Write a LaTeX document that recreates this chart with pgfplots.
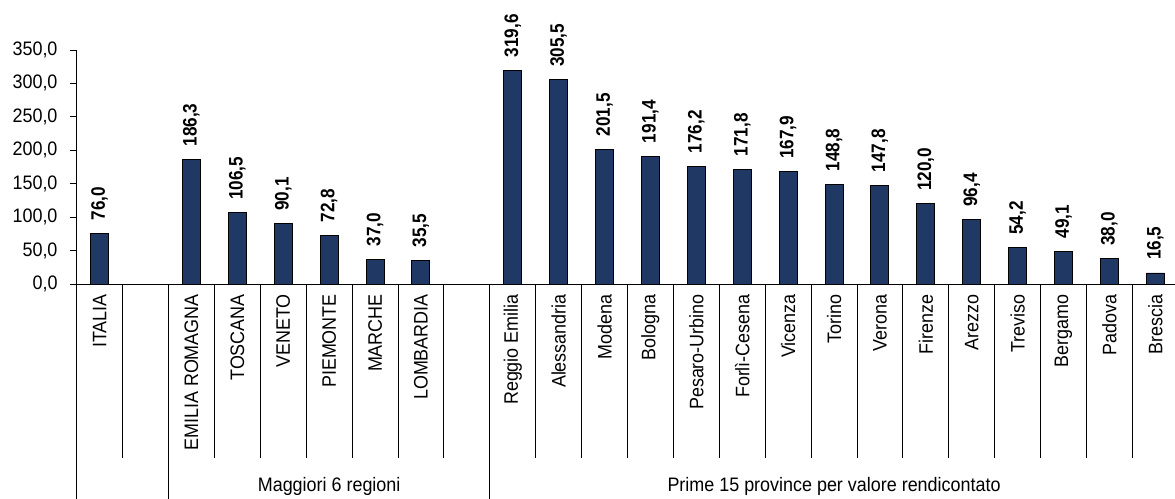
\documentclass[border=0pt]{standalone}
\usepackage{fontspec}
\setmainfont{Liberation Sans}
\newfontfamily\narrowf{Liberation Sans}[FakeStretch=0.92]
\newfontfamily\narrowb{Liberation Sans}[FakeStretch=0.88]
\usepackage{pgfplots}
\pgfplotsset{compat=1.18}
\definecolor{barblue}{RGB}{31,56,100}
\newcommand{\fs}{\narrowf\fontsize{19.5bp}{22bp}\selectfont}
\newcommand{\fb}{\narrowb\fontsize{19.5bp}{22bp}\selectfont\bfseries}
\begin{document}
\begin{tikzpicture}
\pgfkeys{/pgf/number format/assume math mode=true}
\begin{axis}[
  at={(0,0)}, anchor=south west,
  scale only axis, width=1101.6bp, height=234bp,
  xmin=-0.5, xmax=23.5, ymin=0, ymax=350,
  axis x line*=bottom, axis y line*=left,
  axis line style={black, line width=0.9bp},
  clip=false,
  ytick={0,50,...,350},
  xtick={0,...,23},
  xticklabels={ITALIA,{},EMILIA ROMAGNA,TOSCANA,VENETO,PIEMONTE,MARCHE,LOMBARDIA,{},Reggio Emilia,Alessandria,Modena,Bologna,Pesaro-Urbino,Forlì-Cesena,Vicenza,Torino,Verona,Firenze,Arezzo,Treviso,Bergamo,Padova,Brescia},
  xtick style={draw=none},
  ytick style={black, line width=0.9bp},
  tick align=outside, major tick length=6.7bp,
  x tick label style={font=\fs, rotate=90, anchor=east},
  y tick label style={font=\fs, xshift=-9bp, /pgf/number format/.cd, fixed, fixed zerofill, precision=1, use comma, 1000 sep={}},
]
\addplot[ybar, bar width=18bp, fill=barblue, draw=black, line width=0.9bp,
  nodes near coords={\pgfmathprintnumber[fixed,fixed zerofill,precision=1,use comma]{\pgfplotspointmeta}},
  nodes near coords align=horizontal,
  every node near coord/.append style={font=\fb, text=black, rotate=90, anchor=west, inner sep=0pt, inner xsep=13bp, outer sep=0pt}]
coordinates {
(0,76.0)
(2,186.3) (3,106.5) (4,90.1) (5,72.8) (6,37.0) (7,35.5)
(9,319.6) (10,305.5) (11,201.5) (12,191.4) (13,176.2) (14,171.8) (15,167.9) (16,148.8) (17,147.8) (18,120.0) (19,96.4) (20,54.2) (21,49.1) (22,38.0) (23,16.5)
};
\pgfplotsinvokeforeach{0.5,2.5,3.5,4.5,5.5,6.5,7.5,9.5,10.5,11.5,12.5,13.5,14.5,15.5,16.5,17.5,18.5,19.5,20.5,21.5,22.5}{
  \draw[black, line width=0.9bp] (axis cs:#1,0) -- ([yshift=-174bp]axis cs:#1,0);
}
\pgfplotsinvokeforeach{-0.5,1.5,8.5,23.5}{
  \draw[black, line width=0.9bp] (axis cs:#1,0) -- ([yshift=-240bp]axis cs:#1,0);
}
\node[font=\fs, anchor=base, inner sep=0pt] at ([yshift=-207bp]axis cs:5,0) {Maggiori 6 regioni};
\node[font=\fs, anchor=base, inner sep=0pt] at ([yshift=-207bp]axis cs:16,0) {Prime 15 province per valore rendicontato};
\end{axis}
\pgfresetboundingbox
\path[use as bounding box] (-76.7bp,-215bp) rectangle (1098.3bp,284bp);
\end{tikzpicture}
\end{document}
